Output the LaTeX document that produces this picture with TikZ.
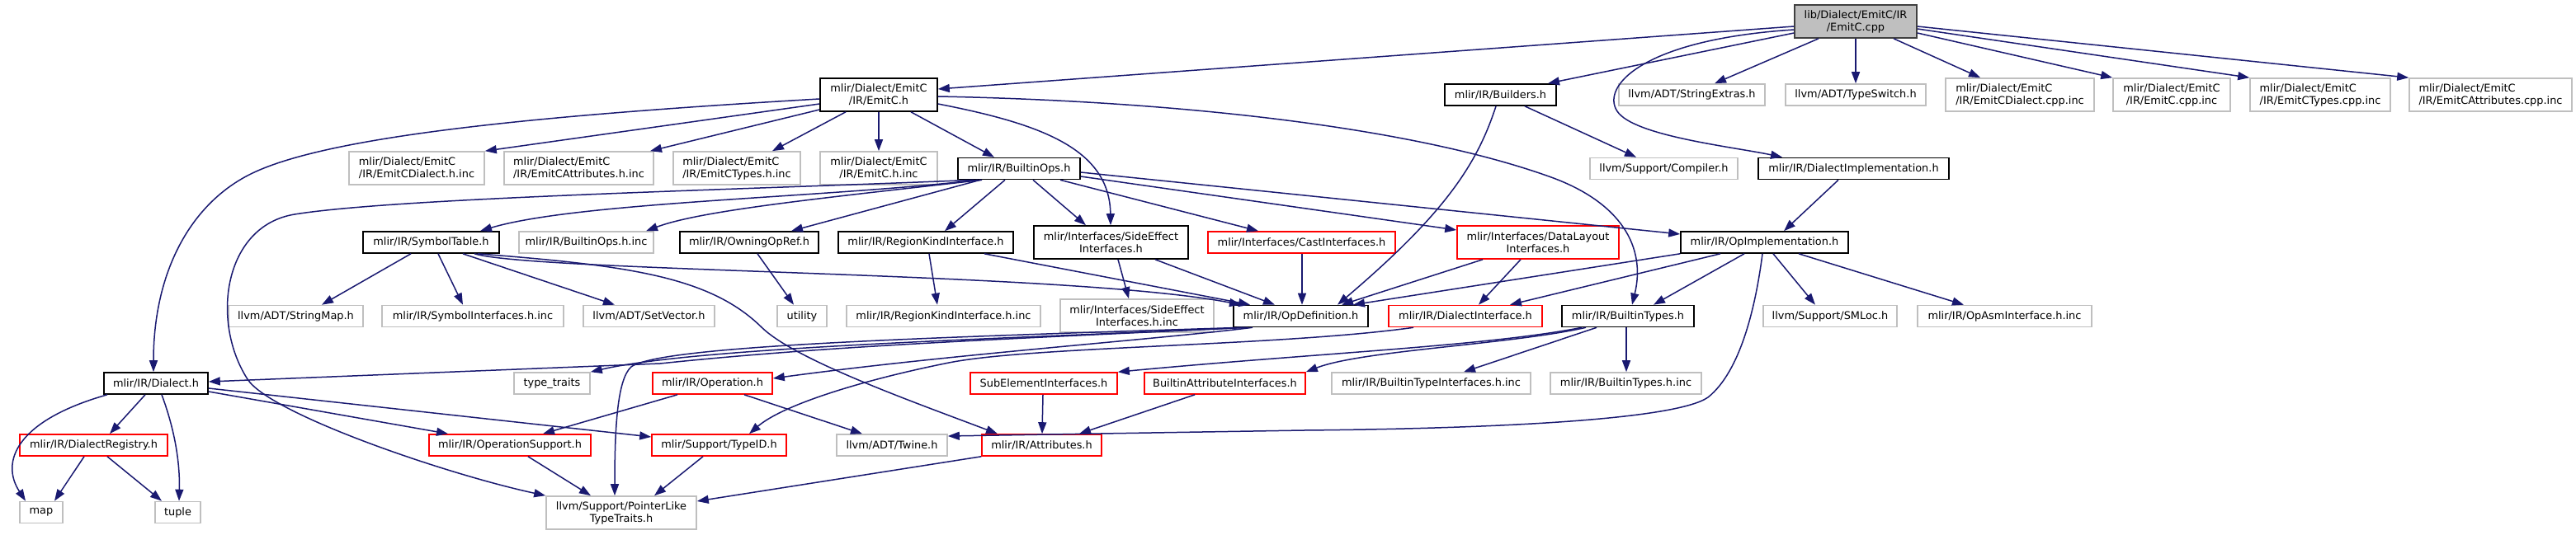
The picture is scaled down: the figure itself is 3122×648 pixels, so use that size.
\documentclass[tikz,border=0pt]{standalone}
\usepackage{fontspec}
\setmainfont{DejaVu Sans}
\usetikzlibrary{arrows.meta}
\definecolor{edgeblue}{HTML}{191970}
\definecolor{extgray}{HTML}{BFBFBF}
\definecolor{rootfill}{HTML}{BFBFBF}
\definecolor{rootdraw}{HTML}{404040}
\begin{document}
\begin{tikzpicture}[x=1pt,y=-1pt,
  box/.style={draw, line width=1.6pt, fill=white, inner sep=0pt, font=\fontsize{12.9}{15}\selectfont, align=center, minimum height=26pt},
  two/.style={minimum height=40pt},
  lft/.style={align=left},
  docbox/.style={box, draw=black},
  extbox/.style={box, draw=extgray},
  redbox/.style={box, draw=red},
  rootbox/.style={box, draw=rootdraw, fill=rootfill},
  e/.style={draw=edgeblue, line width=1.5pt, -{Triangle[length=14pt,width=10pt]}},
]
\useasboundingbox (0,0) rectangle (3122,648);
% row 0
\node[rootbox, two, minimum width=148pt] (root) at (2249,26) {lib/Dialect/EmitC/IR\\/EmitC.cpp};
% row 1
\node[docbox, two, minimum width=142pt] (emitch) at (1065,115) {mlir/Dialect/EmitC\\/IR/EmitC.h};
\node[docbox, minimum width=135pt] (builders) at (1818.5,115) {mlir/IR/Builders.h};
\node[extbox, minimum width=177pt] (strext) at (2050.5,115) {llvm/ADT/StringExtras.h};
\node[extbox, minimum width=170pt] (typesw) at (2249,115) {llvm/ADT/TypeSwitch.h};
\node[extbox, two, lft, minimum width=180pt] (dcppinc) at (2448,115) {mlir/Dialect/EmitC\\/IR/EmitCDialect.cpp.inc};
\node[extbox, two, minimum width=142pt] (ecppinc) at (2632,115) {mlir/Dialect/EmitC\\/IR/EmitC.cpp.inc};
\node[extbox, two, lft, minimum width=170pt] (tcppinc) at (2812,115) {mlir/Dialect/EmitC\\/IR/EmitCTypes.cpp.inc};
\node[extbox, two, lft, minimum width=197pt] (acppinc) at (3018.5,115) {mlir/Dialect/EmitC\\/IR/EmitCAttributes.cpp.inc};
% row 2
\node[extbox, two, lft, minimum width=164pt] (dhinc) at (505,204) {mlir/Dialect/EmitC\\/IR/EmitCDialect.h.inc};
\node[extbox, two, lft, minimum width=181pt] (ahinc) at (701.5,204) {mlir/Dialect/EmitC\\/IR/EmitCAttributes.h.inc};
\node[extbox, two, lft, minimum width=154pt] (thinc) at (893,204) {mlir/Dialect/EmitC\\/IR/EmitCTypes.h.inc};
\node[extbox, two, minimum width=142pt] (ehinc) at (1065,204) {mlir/Dialect/EmitC\\/IR/EmitC.h.inc};
\node[docbox, minimum width=148pt] (bops) at (1235,204.5) {mlir/IR/BuiltinOps.h};
\node[extbox, minimum width=179pt] (compiler) at (2016.5,204.5) {llvm/Support/Compiler.h};
\node[docbox, minimum width=231pt] (dimpl) at (2246.5,204.5) {mlir/IR/DialectImplementation.h};
% row 3
\node[docbox, minimum width=165pt] (symtab) at (522.5,294) {mlir/IR/SymbolTable.h};
\node[extbox, minimum width=163pt] (bopsinc) at (710.5,294) {mlir/IR/BuiltinOps.h.inc};
\node[docbox, minimum width=168pt] (owning) at (908,294) {mlir/IR/OwningOpRef.h};
\node[docbox, minimum width=212pt] (rki) at (1122,294) {mlir/IR/RegionKindInterface.h};
\node[docbox, two, minimum width=187pt] (sei) at (1346.5,294) {mlir/Interfaces/SideEffect\\Interfaces.h};
\node[redbox, minimum width=227pt] (cast) at (1577.5,294) {mlir/Interfaces/CastInterfaces.h};
\node[redbox, two, minimum width=196pt] (dli) at (1864,294) {mlir/Interfaces/DataLayout\\Interfaces.h};
\node[docbox, minimum width=203pt] (opimpl) at (2138.5,294) {mlir/IR/OpImplementation.h};
% row 4
\node[extbox, minimum width=163pt] (strmap) at (358.5,383.5) {llvm/ADT/StringMap.h};
\node[extbox, minimum width=220pt] (syminc) at (573,383.5) {mlir/IR/SymbolInterfaces.h.inc};
\node[extbox, minimum width=159pt] (setvec) at (786.5,383.5) {llvm/ADT/SetVector.h};
\node[extbox, minimum width=60pt] (utility) at (972,383.5) {utility};
\node[extbox, minimum width=235pt] (rkiinc) at (1143.5,383.5) {mlir/IR/RegionKindInterface.h.inc};
\node[extbox, two, minimum width=186pt] (seiinc) at (1378,383) {mlir/Interfaces/SideEffect\\Interfaces.h.inc};
\node[docbox, minimum width=163pt] (opdef) at (1576.5,383.5) {mlir/IR/OpDefinition.h};
\node[redbox, minimum width=186pt] (dint) at (1776,383.5) {mlir/IR/DialectInterface.h};
\node[docbox, minimum width=160pt] (btypes) at (1973,383.5) {mlir/IR/BuiltinTypes.h};
\node[extbox, minimum width=162pt] (smloc) at (2218,383.5) {llvm/Support/SMLoc.h};
\node[extbox, minimum width=211pt] (opasm) at (2429.5,383.5) {mlir/IR/OpAsmInterface.h.inc};
% row 5
\node[docbox, minimum width=126pt] (dialect) at (189,465) {mlir/IR/Dialect.h};
\node[extbox, minimum width=92pt] (ttraits) at (669,465) {type\_traits};
\node[redbox, minimum width=145pt] (operation) at (863.5,465) {mlir/IR/Operation.h};
\node[redbox, minimum width=178pt] (subel) at (1265,465) {SubElementInterfaces.h};
\node[redbox, minimum width=195pt] (bai) at (1484.5,465) {BuiltinAttributeInterfaces.h};
\node[extbox, minimum width=241pt] (btiinc) at (1734.5,465) {mlir/IR/BuiltinTypeInterfaces.h.inc};
\node[extbox, minimum width=183pt] (btinc) at (1970.5,465) {mlir/IR/BuiltinTypes.h.inc};
% row 6
\node[redbox, minimum width=179pt] (dreg) at (113.5,540) {mlir/IR/DialectRegistry.h};
\node[redbox, minimum width=196pt] (opsup) at (618,540) {mlir/IR/OperationSupport.h};
\node[redbox, minimum width=163pt] (typeid) at (871.5,540) {mlir/Support/TypeID.h};
\node[extbox, minimum width=134pt] (twine) at (1081,540) {llvm/ADT/Twine.h};
\node[redbox, minimum width=145pt] (attrs) at (1262.5,540) {mlir/IR/Attributes.h};
% row 7
\node[extbox, minimum width=52pt] (map) at (50,621.5) {map};
\node[extbox, minimum width=55pt] (tuple) at (215.5,621.5) {tuple};
\node[extbox, two, minimum width=182pt] (ptl) at (753,622) {llvm/Support/PointerLike\\TypeTraits.h};

% edges from root
\draw[e] (root.west |- 0,32) -- (emitch.east |- 0,108);
\draw[e] (root.west |- 0,40) -- (builders.north -| 1876,0);
\draw[e] (root.west |- 0,36) .. controls (1990,48) and (1940,105) .. (1960,135) .. controls (1980,165) and (2100,178) .. (dimpl.north -| 2160,0);
\draw[e] (root.south -| 2204,0) -- (strext.north -| 2078,0);
\draw[e] (root) -- (typesw);
\draw[e] (root.south -| 2295,0) -- (dcppinc.north -| 2400,0);
\draw[e] (root.east |- 0,40) -- (ecppinc.north west);
\draw[e] (root.east |- 0,35) -- (tcppinc.north west);
\draw[e] (root.east |- 0,32) -- (acppinc.north west);
% edges from EmitC.h
\draw[e] (emitch.west |- 0,120) .. controls (650,140) and (400,165) .. (306,210) .. controls (231,246) and (186,330) .. (dialect.north -| 186,0);
\draw[e] (emitch.west |- 0,126) -- (dhinc.north east);
\draw[e] (emitch.west |- 0,133) -- (ahinc.north -| 788,0);
\draw[e] (emitch.south -| 1025,0) -- (thinc.north -| 936,0);
\draw[e] (emitch) -- (ehinc);
\draw[e] (emitch.south -| 1104,0) -- (bops.north -| 1205,0);
\draw[e] (emitch.east |- 0,126) .. controls (1260,150) and (1345,180) .. (sei.north -| 1346,0);
\draw[e] (emitch.east |- 0,117) .. controls (1400,122) and (1700,150) .. (1880,215) .. controls (1965,246) and (1995,300) .. (btypes.north -| 1978,0);
% Builders.h
\draw[e] (builders.south -| 1848,0) -- (compiler.north -| 1983,0);
\draw[e] (builders.south -| 1813,0) .. controls (1790,200) and (1750,260) .. (opdef.north -| 1621,0);
% DialectImplementation.h
\draw[e] (dimpl.south -| 2228,0) -- (opimpl.north -| 2162,0);
% BuiltinOps.h
\draw[e] (bops.south -| 1185,0) .. controls (1000,240) and (700,245) .. (symtab.north -| 582,0);
\draw[e] (bops.south -| 1190,0) .. controls (1000,240) and (850,255) .. (bopsinc.north -| 783,0);
\draw[e] (bops.south -| 1180,0) .. controls (900,230) and (480,240) .. (357,260) .. controls (271,274) and (255,390) .. (300,460) .. controls (327,502) and (540,575) .. (ptl.north west);
\draw[e] (bops.south -| 1188,0) -- (owning.north -| 959,0);
\draw[e] (bops.south -| 1218,0) -- (rki.north -| 1145,0);
\draw[e] (bops.south -| 1252,0) -- (sei.north -| 1316,0);
\draw[e] (bops.south -| 1285,0) -- (cast.north -| 1525,0);
\draw[e] (bops.east |- 0,214) -- (dli.west |- 0,279);
\draw[e] (bops.east |- 0,209) -- (opimpl.west |- 0,284);
% SymbolTable.h
\draw[e] (symtab.south -| 498,0) -- (strmap.north -| 390,0);
\draw[e] (symtab.south -| 531,0) -- (syminc.north -| 561,0);
\draw[e] (symtab.south -| 561,0) -- (setvec.north -| 745,0);
\draw[e] (symtab.south -| 575,0) .. controls (650,330) and (1300,330) .. (opdef.north -| 1504,0);
\draw[e] (symtab.south -| 579,0) .. controls (760,322) and (860,335) .. (923,397) .. controls (963,436) and (1100,485) .. (attrs.north -| 1209,0);
% row 3 others
\draw[e] (owning.south -| 918,0) -- (utility.north -| 962,0);
\draw[e] (rki.south -| 1126,0) -- (rkiinc.north -| 1136,0);
\draw[e] (rki.south -| 1193,0) -- (opdef.north -| 1515,0);
\draw[e] (sei.south -| 1355,0) -- (seiinc.north -| 1368,0);
\draw[e] (sei.south -| 1400,0) -- (opdef.north -| 1545,0);
\draw[e] (cast.south -| 1578,0) -- (opdef.north -| 1578,0);
\draw[e] (dli.south -| 1797,0) -- (opdef.north -| 1626,0);
\draw[e] (dli.south -| 1843,0) -- (dint.north -| 1792,0);
% OpImplementation.h
\draw[e] (opimpl.south west) -- (opdef.north -| 1640,0);
\draw[e] (opimpl.south -| 2085,0) -- (dint.north -| 1830,0);
\draw[e] (opimpl.south -| 2114,0) -- (btypes.north -| 2004,0);
\draw[e] (opimpl.south -| 2149,0) -- (smloc.north -| 2200,0);
\draw[e] (opimpl.south -| 2180,0) -- (opasm.north -| 2380,0);
\draw[e] (opimpl.south -| 2136,0) .. controls (2128,370) and (2110,450) .. (2070,482) .. controls (2030,510) and (1800,520) .. (1580,522) -- (twine.east |- 0,529);
% OpDefinition.h
\draw[e] (opdef.south -| 1512,0) .. controls (1200,412) and (1000,420) .. (800,441) -- (dialect.east |- 0,463);
\draw[e] (opdef.south -| 1508,0) .. controls (1250,410) and (850,420) .. (ttraits.north east);
\draw[e] (opdef.south -| 1518,0) .. controls (1400,412) and (1150,430) .. (operation.east |- 0,459);
\draw[e] (opdef.south -| 1505,0) .. controls (1100,410) and (800,420) .. (765,445) .. controls (748,460) and (745,520) .. (ptl.north -| 745,0);
% DialectInterface.h
\draw[e] (dint.south -| 1713,0) .. controls (1550,420) and (1250,420) .. (1150,440) .. controls (1050,460) and (950,490) .. (typeid.north -| 908,0);
% BuiltinTypes.h
\draw[e] (btypes.south -| 1917,0) .. controls (1800,420) and (1600,428) .. (subel.north east);
\draw[e] (btypes.south -| 1922,0) .. controls (1830,418) and (1650,425) .. (bai.north east);
\draw[e] (btypes.south -| 1935,0) -- (btiinc.north -| 1774,0);
\draw[e] (btypes.south -| 1971,0) -- (btinc.north -| 1971,0);
% Dialect.h
\draw[e] (dialect.south -| 130,0) .. controls (20,510) and (0,560) .. (map.north -| 31,0);
\draw[e] (dialect.south -| 176,0) -- (dreg.north -| 133,0);
\draw[e] (dialect.south -| 196,0) .. controls (215,530) and (218,570) .. (tuple.north -| 217,0);
\draw[e] (dialect.east |- 0,475) -- (opsup.north -| 543,0);
\draw[e] (dialect.east |- 0,471) -- (typeid.west |- 0,530);
% lower rows
\draw[e] (dreg.south -| 102,0) -- (map.north -| 66,0);
\draw[e] (dreg.south -| 130,0) -- (tuple.north -| 196,0);
\draw[e] (operation.south -| 821,0) -- (opsup.north -| 658,0);
\draw[e] (operation.south -| 902,0) -- (twine.north -| 1045,0);
\draw[e] (subel.south -| 1264,0) -- (attrs.north -| 1263,0);
\draw[e] (bai.south -| 1448,0) -- (attrs.north -| 1308,0);
\draw[e] (opsup.south -| 640,0) -- (ptl.north -| 716,0);
\draw[e] (typeid.south -| 852,0) -- (ptl.north -| 793,0);
\draw[e] (attrs.south west) -- (ptl.east |- 0,608);
\end{tikzpicture}
\end{document}
